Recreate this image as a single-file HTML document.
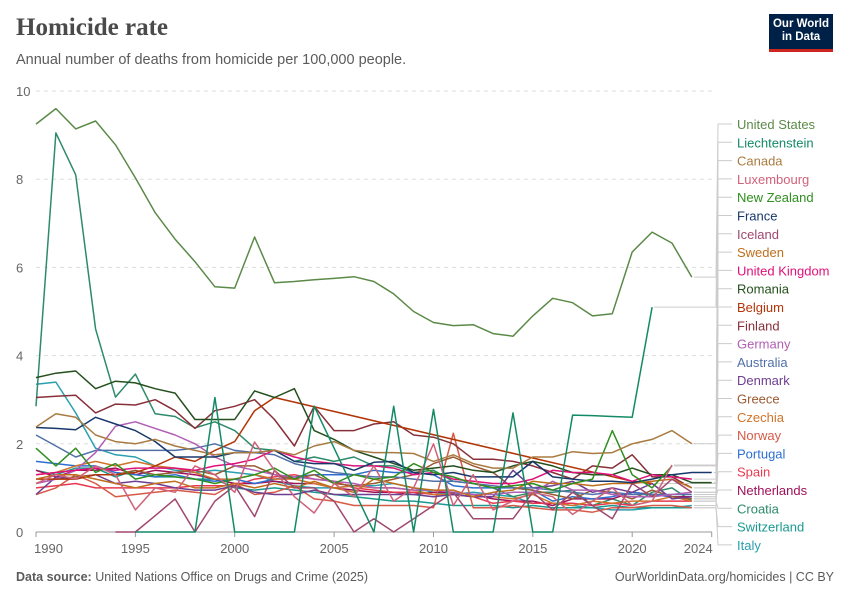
<!DOCTYPE html>
<html><head><meta charset="utf-8">
<style>
body{margin:0;background:#fff;font-family:"Liberation Sans",sans-serif;}
#wrap{position:relative;width:850px;height:600px;overflow:hidden;}
.title{position:absolute;left:16px;top:14px;font-family:"Liberation Serif",serif;font-weight:bold;font-size:25px;color:#4a4a4a;}
.sub{position:absolute;left:16px;top:52px;font-size:14.5px;color:#5b5b5b;}
.logo{position:absolute;left:769px;top:14px;width:64px;height:38px;background:#002147;color:#fff;font-size:11.5px;font-weight:bold;text-align:center;line-height:13px;padding-top:4px;box-sizing:border-box;border-bottom:3px solid #ce261e;}
.foot{position:absolute;top:570px;font-size:12.5px;color:#5b5b5b;}
</style></head><body>
<div id="wrap">
<div class="title">Homicide rate</div>
<div class="sub">Annual number of deaths from homicide per 100,000 people.</div>
<div class="logo">Our World<br>in Data</div>
<svg id="chart" width="850" height="600" style="position:absolute;left:0;top:0"></svg>
<div class="foot" style="left:16px"><b>Data source:</b> United Nations Office on Drugs and Crime (2025)</div>
<div class="foot" style="right:16px">OurWorldinData.org/homicides | CC BY</div>
</div>
<script>
const startYear = 1990;
const yTicks = [0,2,4,6,8,10];
const xTicks = [1990,1995,2000,2005,2010,2015,2020,2024];
const countries = ["United States","Liechtenstein","Canada","Luxembourg","New Zealand","France","Iceland","Sweden","United Kingdom","Romania","Belgium","Finland","Germany","Australia","Denmark","Greece","Czechia","Norway","Portugal","Spain","Netherlands","Croatia","Switzerland","Italy"];
const colors = ["#5b8a48","#138a66","#a97b40","#d0617a","#2f8f1f","#18386b","#a0476f","#bf6e1c","#e0107a","#24501d","#b13507","#883039","#b15eb5","#5170a8","#6d3e91","#9b5a33","#d0742b","#d65a45","#2d6fd0","#e8384f","#a0115a","#2e8b6a","#1a9a90","#2a9fb0"];
const N=null;
const usValues=[9.25,9.6,9.14,9.32,8.78,8.03,7.24,6.64,6.13,5.56,5.53,6.69,5.65,5.68,5.72,5.75,5.79,5.68,5.4,5.0,4.75,4.68,4.7,4.5,4.44,4.9,5.3,5.2,4.9,4.95,6.35,6.8,6.55,5.78,N];
const liechtensteinValues=[N,N,N,N,N,0,0,0,0,3.05,0,0,0,0,2.85,1.9,0.95,0,2.85,0,2.78,0,0,0,2.7,0,0,2.65,2.64,2.62,2.6,5.1,N,N,N];
const canadaValues=[2.38,2.68,2.6,2.2,2.05,2.0,2.1,1.95,1.85,1.75,1.8,1.8,1.85,1.75,1.95,2.05,1.85,1.8,1.8,1.78,1.6,1.75,1.55,1.45,1.45,1.7,1.7,1.82,1.78,1.8,2.0,2.1,2.3,2.0,N];
const luxembourgValues=[1.1,1.3,1.2,1.5,1.3,0.5,1.0,0.9,1.5,1.3,0.9,2.04,1.4,0.8,0.43,1.1,0.8,1.5,0.7,1.0,2.0,0.6,1.3,0.5,0.7,0.9,0.8,0.4,0.7,1.0,0.6,0.7,1.52,N,N];
const newZealandValues=[1.9,1.5,1.9,1.35,1.55,1.2,1.3,1.25,1.2,1.1,1.2,1.3,1.45,1.2,1.4,1.1,1.3,1.2,1.25,1.55,1.35,1.25,1.1,1.0,1.05,1.1,0.95,1.1,1.2,2.3,1.3,1.0,1.5,N,N];
const franceValues=[2.37,2.35,2.32,2.6,2.45,2.3,2.05,1.7,1.7,1.7,1.8,1.8,1.85,1.6,1.55,1.55,1.4,1.58,1.6,1.35,1.3,1.35,1.25,1.25,1.25,1.6,1.25,1.2,1.15,1.15,1.12,1.2,1.3,1.35,1.35];
const icelandValues=[N,N,N,N,0,0,0.37,0.75,0,0.7,1.05,0.35,1.4,1.0,1.0,0.7,0,0.3,0,0.3,0.6,0.9,0.3,0.3,0.3,0.9,0.5,0.9,0.6,0.3,1.1,0.8,1.2,0.9,N];
const swedenValues=[1.2,1.3,1.3,1.2,1.1,1.0,1.1,1.15,1.0,1.0,1.1,1.0,1.1,1.0,1.15,1.0,0.9,1.2,1.1,1.0,0.95,0.95,0.8,0.9,0.95,1.15,1.1,1.1,1.05,1.1,1.1,1.15,1.2,1.0,N];
const ukValues=[1.3,1.35,1.4,1.45,1.4,1.45,1.45,1.45,1.4,1.5,1.55,1.65,1.86,1.7,1.6,1.55,1.5,1.5,1.45,1.3,1.35,1.2,1.15,1.1,1.1,1.2,1.4,1.35,1.35,1.3,1.15,1.3,1.25,1.2,N];
const romaniaValues=[3.5,3.6,3.65,3.25,3.42,3.38,3.25,3.15,2.55,2.55,2.55,3.2,3.05,3.25,2.3,2.1,1.85,1.7,1.55,1.4,1.45,1.5,1.4,1.35,1.5,1.6,1.5,1.35,1.3,1.3,1.45,1.3,1.3,1.12,1.12];
const belgiumValues=[1.2,1.2,1.2,1.3,1.3,1.35,1.5,1.7,1.6,1.85,2.05,2.75,3.05,N,N,N,N,N,N,N,N,N,N,N,N,N,N,N,N,N,1.15,1.1,N,N,N];
const finlandValues=[3.05,3.08,3.1,2.7,2.9,2.88,3.0,2.75,2.35,2.75,2.85,3.0,2.55,1.95,2.85,2.3,2.3,2.45,2.5,2.2,2.15,2.0,1.65,1.65,1.6,1.5,1.35,1.2,1.5,1.45,1.75,1.25,1.25,1.0,N];
const germanyValues=[1.1,1.2,1.4,1.8,2.4,2.5,2.35,2.2,2.0,1.7,1.5,1.4,1.3,1.25,1.2,1.15,1.1,1.0,1.0,0.95,0.95,0.9,0.85,0.85,0.9,0.9,1.15,0.95,0.95,0.85,0.8,0.8,0.85,0.9,N];
const australiaValues=[2.2,1.95,1.7,1.85,1.85,1.85,1.85,1.85,1.9,2.0,1.85,1.8,1.75,1.55,1.45,1.35,1.3,1.25,1.25,1.2,1.15,1.15,1.1,1.05,1.0,1.0,0.95,0.9,0.85,0.9,0.85,0.85,0.85,0.85,N];
const denmarkValues=[0.85,1.25,1.2,1.3,1.1,1.15,1.1,1.0,0.95,0.95,1.05,0.9,0.85,0.85,0.95,0.85,0.85,0.85,0.85,0.85,0.8,0.85,0.8,0.8,1.4,1.0,1.05,1.15,0.9,1.0,0.9,1.1,0.75,0.8,N];
const greeceValues=[1.1,1.2,1.25,1.3,1.3,1.4,1.3,1.35,1.4,1.3,1.5,1.5,1.3,1.2,1.3,1.1,1.05,1.1,1.2,1.3,1.55,1.7,1.5,1.35,1.0,0.95,0.85,0.75,0.95,0.9,0.75,0.95,0.8,0.75,N];
const czechiaValues=[1.3,1.35,1.5,1.6,1.5,1.6,1.5,1.45,1.35,1.2,1.2,1.3,1.2,1.2,1.1,1.0,1.05,1.0,1.0,0.95,0.85,0.85,0.8,0.8,0.75,0.85,0.65,0.6,0.7,0.65,0.7,0.7,0.8,0.7,N];
const norwayValues=[0.85,1.0,1.3,1.1,0.8,0.85,0.9,0.95,0.9,0.85,1.1,0.85,0.9,1.05,0.75,0.7,0.6,0.6,0.6,0.6,0.55,2.24,0.55,0.55,0.6,0.55,0.5,0.5,0.45,0.55,0.55,0.6,0.6,0.55,N];
const portugalValues=[1.6,1.55,1.5,1.5,1.35,1.3,1.25,1.3,1.2,1.15,1.2,1.1,1.2,1.25,1.3,1.3,1.3,1.4,1.35,1.35,1.3,1.05,1.0,1.0,1.0,0.95,0.7,0.8,0.75,0.8,0.9,0.85,0.8,0.75,N];
const spainValues=[1.0,1.05,1.1,1.0,1.0,1.0,1.0,1.0,1.05,1.05,1.05,1.2,1.25,1.3,1.2,1.15,1.0,0.95,0.9,0.9,0.85,0.85,0.8,0.65,0.7,0.65,0.65,0.65,0.6,0.65,0.6,0.7,0.7,0.7,N];
const netherlandsValues=[1.4,1.25,1.4,1.4,1.45,1.3,1.4,1.35,1.3,1.2,1.1,1.1,1.15,1.1,1.1,1.0,0.95,0.9,0.9,0.85,0.9,0.9,0.85,0.75,0.7,0.7,0.6,0.75,0.75,0.75,0.9,0.85,0.8,0.8,N];
const croatiaValues=[2.85,9.05,8.1,4.6,3.06,3.58,2.68,2.62,2.36,2.5,2.3,1.9,1.85,1.6,1.7,1.6,1.7,1.5,1.5,1.35,1.4,1.15,1.1,1.0,0.8,0.9,0.9,0.95,0.6,0.75,0.6,0.9,1.0,0.7,N];
const switzerlandValues=[1.4,1.3,1.45,1.45,1.25,1.4,1.25,1.25,1.2,1.2,1.0,0.95,1.0,0.95,0.9,0.85,0.8,0.75,0.7,0.7,0.65,0.6,0.6,0.6,0.55,0.6,0.55,0.55,0.55,0.6,0.55,0.55,0.55,0.55,N];
const italyValues=[3.35,3.4,2.7,1.9,1.75,1.7,1.5,1.4,1.35,1.4,1.35,1.3,1.15,1.05,1.0,1.0,1.05,1.05,1.1,1.0,0.9,0.85,0.9,0.85,0.8,0.65,0.65,0.6,0.55,0.5,0.5,0.55,0.55,0.6,N];
const series=[usValues,liechtensteinValues,canadaValues,luxembourgValues,newZealandValues,franceValues,icelandValues,swedenValues,ukValues,romaniaValues,belgiumValues,finlandValues,germanyValues,australiaValues,denmarkValues,greeceValues,czechiaValues,norwayValues,portugalValues,spainValues,netherlandsValues,croatiaValues,switzerlandValues,italyValues];

const svg=document.getElementById('chart');
const NS='http://www.w3.org/2000/svg';
const X0=36,X1=711.7,Y0=532,Y10=91;
function xs(yr){return X0+(yr-1990)*(X1-X0)/34;}
function ys(v){return Y0-v*(Y0-Y10)/10;}
function mk(tag,attrs){const e=document.createElementNS(NS,tag);for(const k in attrs)e.setAttribute(k,attrs[k]);svg.appendChild(e);return e;}

yTicks.forEach(t=>{
  if(t>0){const g=mk('line',{x1:36,x2:712,y1:ys(t),y2:ys(t),stroke:'#ddd','stroke-dasharray':'4,4'});
  
  }
  const tx=mk('text',{x:16,y:ys(t)+5,'font-size':13,fill:'#666','font-family':'Liberation Sans, sans-serif'});
  tx.textContent=t;
  
  
});
const ax=mk('line',{x1:36,x2:712,y1:532,y2:532,stroke:'#999'});


xTicks.forEach((t,i)=>{
  const tk=mk('line',{x1:xs(t),x2:xs(t),y1:532,y2:537,stroke:'#999'});
  
  
  const anchor=i===0?'start':(i===xTicks.length-1?'end':'middle');
  const tx=mk('text',{x:i===0?xs(t)-2:(i===xTicks.length-1?xs(t)+1:xs(t)),y:553,'font-size':13,fill:'#666','text-anchor':anchor,'font-family':'Liberation Sans, sans-serif'});
  tx.textContent=t;
  
  
});

const labelY0=124,labelStep=18.3;
for(let s=series.length-1;s>=0;s--){
  const vals=series[s];
  let d='',pen=false,lastI=-1;
  vals.forEach((v,i)=>{
    if(v===null){pen=false;return;}
    d+=(pen?'L':'M')+xs(startYear+i).toFixed(1)+','+ys(v).toFixed(1);pen=true;lastI=i;
  });
  // connect across single gaps (e.g. Belgium) like original straight segments
  let pts=[];vals.forEach((v,i)=>{if(v!==null)pts.push([xs(startYear+i),ys(v)]);});
  d='M'+pts.map(p=>p[0].toFixed(1)+','+p[1].toFixed(1)).join('L');
  const p=mk('path',{d:d,fill:'none',stroke:colors[s],'stroke-width':1.5,'stroke-linejoin':'round'});
  
  
  const ly=labelY0+s*labelStep;
  const ey=ys(vals[lastI]);
  const ex=xs(startYear+lastI);
  const c=mk('polyline',{points:(ex+2)+','+ey+' 716,'+ey+' 718,'+ly+' 732,'+ly,fill:'none',stroke:'#ccc','stroke-width':1});
  
  
  const t=mk('text',{x:737,y:ly+5,'font-size':13,fill:colors[s],'font-family':'Liberation Sans, sans-serif'});
  t.textContent=countries[s];
  
  
}
</script>
</body></html>
